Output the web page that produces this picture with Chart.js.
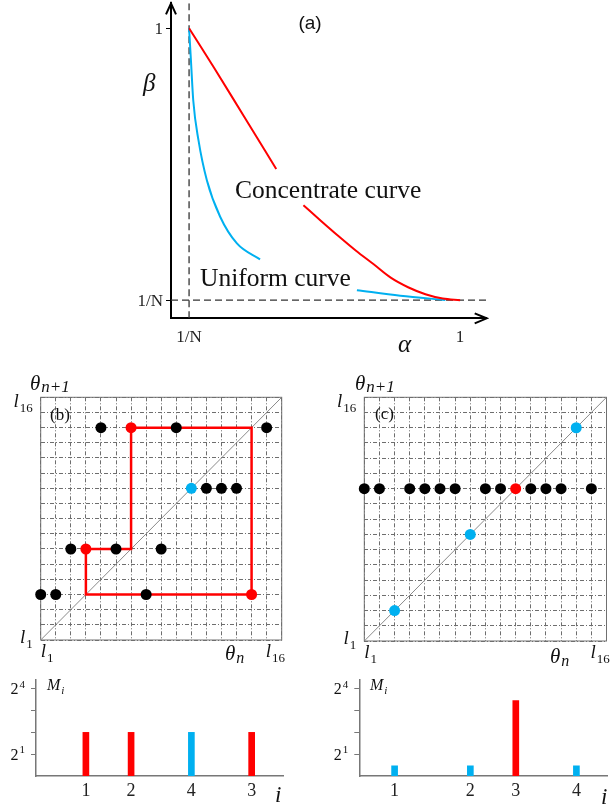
<!DOCTYPE html>
<html>
<head>
<meta charset="utf-8">
<script src="https://cdn.jsdelivr.net/npm/chart.js@4.4.0/dist/chart.umd.min.js"></script>
<style>
  html, body { margin: 0; padding: 0; background: #fff; }
  body { width: 612px; height: 809px; position: relative; overflow: hidden; }
  canvas { position: absolute; left: 0; top: 0; }
</style>
</head>
<body>
<canvas id="chartA" width="612" height="809"></canvas>
<canvas id="chartB" width="612" height="809"></canvas>
<canvas id="chartC" width="612" height="809"></canvas>
<canvas id="barsB" width="612" height="809"></canvas>
<canvas id="barsC" width="612" height="809"></canvas>
<script>
const SERIF = '"Liberation Serif", "DejaVu Serif", serif';
const SANS = '"Liberation Sans", Arial, sans-serif';
const RED = '#ff0000';
const BLUE = '#00b0f0';

// ---- (a) alpha / beta curves, 1/N = 1/16 ----
const invN = 1 / 16;
const aMaxX = 1.092;
const aMaxY = 1.086;
const aTickVals = [invN, 1];
const aTickLabels = ['1/N', '1'];
const concAlpha = [0.0625, 0.15, 0.25, 0.364, 0.41, 0.458, 0.52, 0.58, 0.64, 0.70, 0.76, 0.82, 0.88, 0.94, 1.0];
const concBeta  = [1.0,    0.862, 0.700, 0.515, null, 0.390, 0.335, 0.283, 0.233, 0.187, 0.140, 0.107, 0.083, 0.068, 0.0625];
const unifAlpha = [0.0625, 0.069, 0.077, 0.095, 0.124, 0.170, 0.228, 0.308, 0.45, 0.643, 0.793, 0.949];
const unifBeta  = [1.0,    0.889, 0.751, 0.614, 0.476, 0.350, 0.258, 0.203, null, 0.097, 0.078, 0.063];

// ---- (b), (c) return maps on 16 levels ----
const gridTickVals = [0, 16];
const gridTickLabels = ['l_1', 'l_16'];

const bBlackX = [4, 9, 15, 11, 12, 13, 2, 5, 8, 0, 1, 7];
const bBlackY = [14, 14, 14, 10, 10, 10, 6, 6, 6, 3, 3, 3];
const bRedX = [6, 3, 14];
const bRedY = [14, 6, 3];
const bBlueX = [10];
const bBlueY = [10];
const bPathX = [3, 6, 6, 14, 14, 3, 3];
const bPathY = [6, 6, 14, 14, 3, 3, 6];

const cBlackX = [0, 1, 3, 4, 5, 6, 8, 9, 11, 12, 13, 15];
const cBlackY = [10, 10, 10, 10, 10, 10, 10, 10, 10, 10, 10, 10];
const cRedX = [10];
const cRedY = [10];
const cBlueX = [2, 7, 14];
const cBlueY = [2, 7, 14];

// ---- M_i bars ----
const mTickVals = [2, 4, 8, 16];
const mTickLabels = ['2^1', '', '', '2^4'];
const bBarPos = [3, 6, 10, 14];
const bBarLabels = ['1', '2', '4', '3'];
const bBarM = [4, 4, 4, 4];
const bBarColors = [RED, RED, BLUE, RED];
const cBarPos = [2, 7, 10, 14];
const cBarLabels = ['1', '2', '3', '4'];
const cBarM = [1.38, 1.38, 11, 1.38];
const cBarColors = [BLUE, BLUE, RED, BLUE];

const pts = (xs, ys) => xs.map((x, i) => ({ x: x, y: ys[i] }));

// text like "l_16", "2^4", "θ_n+1"
function drawRich(ctx, str, x, y, size, o) {
  o = o || {};
  const m = str.match(/^([^_^]+)(?:([_^])(.+))?$/);
  const base = m[1], mode = m[2], scr = m[3] || '';
  const fam = o.family || SERIF;
  const fBase = (o.italic ? 'italic ' : '') + size + 'px ' + fam;
  const ss = o.ss || Math.round(size * 0.68);
  const fScr = (/[a-z]/.test(scr) ? 'italic ' : '') + ss + 'px ' + fam;
  const drop = o.drop !== undefined ? o.drop : size * 0.25;
  ctx.save();
  ctx.font = fBase;
  const wb = ctx.measureText(base).width;
  ctx.font = fScr;
  const ws = scr ? ctx.measureText(scr).width + 1 : 0;
  let x0 = x;
  if (o.align === 'right') x0 = x - wb - ws;
  else if (o.align === 'center') x0 = x - (wb + ws) / 2;
  ctx.fillStyle = o.color || '#111';
  ctx.textAlign = 'left';
  ctx.textBaseline = 'alphabetic';
  ctx.font = fBase;
  ctx.fillText(base, x0, y);
  if (scr) {
    ctx.font = fScr;
    ctx.fillText(scr, x0 + wb + 1, mode === '_' ? y + drop : y - size * 0.42);
  }
  ctx.restore();
}

const textPlugin = (items) => ({
  id: 'texts',
  afterDraw(chart) {
    items.forEach(it => drawRich(chart.ctx, it.t, it.x, it.y, it.size, it));
  }
});

const padFor = (l, t, r, b) => ({ left: l, top: t, right: 612 - r, bottom: 809 - b });

const baseOpts = {
  responsive: false,
  animation: false,
  events: [],
  plugins: { legend: { display: false }, tooltip: { enabled: false } }
};

// ---------- (a) ----------
const arrows = {
  id: 'arrows',
  afterDraw(chart) {
    const { ctx, chartArea: { left, top, right, bottom } } = chart;
    ctx.save();
    ctx.strokeStyle = '#000';
    ctx.lineWidth = 2;
    ctx.beginPath();
    ctx.moveTo(left - 5, top + 11); ctx.lineTo(left, top); ctx.lineTo(left + 5, top + 11);
    ctx.moveTo(right - 12, bottom - 5); ctx.lineTo(right, bottom); ctx.lineTo(right - 12, bottom + 5);
    ctx.stroke();
    ctx.restore();
  }
};

const aYLabels = {
  id: 'aYLabels',
  afterDraw(chart) {
    const { ctx, chartArea: a, scales: { y } } = chart;
    aTickVals.forEach((v, i) => {
      drawRich(ctx, aTickLabels[i], a.left - 8, y.getPixelForValue(v) + 6, 17, { align: 'right', color: '#222' });
    });
  }
};

const xAxisH = 30;

new Chart(document.getElementById('chartA'), {
  type: 'scatter',
  data: {
    datasets: [
      { data: pts(concAlpha, concBeta), showLine: true, borderColor: RED, borderWidth: 2,
        pointRadius: 0, spanGaps: false, cubicInterpolationMode: 'monotone' },
      { data: pts(unifAlpha, unifBeta), showLine: true, borderColor: BLUE, borderWidth: 2,
        pointRadius: 0, spanGaps: false, cubicInterpolationMode: 'monotone' },
      { data: [{ x: invN, y: 0 }, { x: invN, y: aMaxY }], showLine: true, borderColor: '#333',
        borderWidth: 1.3, borderDash: [7, 4], pointRadius: 0 },
      { data: [{ x: 0, y: invN }, { x: aMaxX, y: invN }], showLine: true, borderColor: '#333',
        borderWidth: 1.3, borderDash: [7, 4], pointRadius: 0 }
    ]
  },
  options: Object.assign({}, baseOpts, {
    layout: { padding: padFor(171, 3.3, 486.7, 318.3 + xAxisH) },
    scales: {
      x: {
        type: 'linear', min: 0, max: aMaxX,
        afterFit: s => { s.height = xAxisH; },
        afterBuildTicks: s => { s.ticks = aTickVals.map(v => ({ value: v })); },
        ticks: { callback: (v, i) => aTickLabels[i], font: { family: SERIF, size: 17 }, color: '#222',
                 padding: 9, maxRotation: 0, autoSkip: false },
        grid: { display: false, drawTicks: false },
        border: { display: true, color: '#000', width: 2 }
      },
      y: {
        type: 'linear', min: 0, max: aMaxY,
        afterFit: s => { s.width = 0; },
        afterBuildTicks: s => { s.ticks = aTickVals.map(v => ({ value: v })); },
        ticks: { display: false },
        grid: { drawOnChartArea: false, drawTicks: true, tickLength: 5, color: '#000' },
        border: { display: true, color: '#000', width: 2 }
      }
    }
  }),
  plugins: [arrows, aYLabels, textPlugin([
    { t: '(a)', x: 310, y: 29, size: 19, family: SANS, align: 'center' },
    { t: 'β', x: 143, y: 91, size: 25, italic: true },
    { t: 'α', x: 398, y: 352, size: 25, italic: true },
    { t: 'Concentrate curve', x: 235, y: 198, size: 25.5 },
    { t: 'Uniform curve', x: 200, y: 286, size: 25.5 }
  ])]
});

// ---------- (b), (c) ----------
const boxPlugin = {
  id: 'box',
  beforeDatasetsDraw(chart) {
    const { ctx, chartArea: a } = chart;
    ctx.save();
    ctx.strokeStyle = '#707070';
    ctx.lineWidth = 1;
    ctx.strokeRect(a.left, a.top, a.right - a.left, a.bottom - a.top);
    ctx.restore();
  }
};

const gridTicks = {
  id: 'gridTicks',
  afterDraw(chart) {
    const { ctx, chartArea: a, scales: { x, y } } = chart;
    gridTickVals.forEach((v, i) => {
      const py = y.getPixelForValue(v);
      drawRich(ctx, gridTickLabels[i], a.left - 8, py + (v === y.max ? 10 : 3), 19, { italic: true, align: 'right' });
      const px = x.getPixelForValue(v);
      drawRich(ctx, gridTickLabels[i], v === x.max ? px - 16 : px, a.bottom + 17, 19, { italic: true });
    });
  }
};

function gridScale() {
  return {
    type: 'linear', min: 0, max: 16,
    ticks: { stepSize: 1, display: false },
    grid: { color: '#6e6e6e', lineWidth: 1, drawTicks: false },
    border: { display: false, dash: [4, 2, 1, 2] }
  };
}

function makeGrid(id, area, sets, texts) {
  const dot = (data, color) => ({ data: data, backgroundColor: color, borderWidth: 0,
                                  pointRadius: 5.5, clip: false });
  const ds = [
    dot(sets.black, '#000'),
    dot(sets.red, RED),
    dot(sets.blue, BLUE)
  ];
  if (sets.path) {
    ds.push({ data: sets.path, showLine: true, borderColor: RED, borderWidth: 2.5, pointRadius: 0 });
  }
  ds.push({ data: [{ x: 0, y: 0 }, { x: 16, y: 16 }], showLine: true, borderColor: '#8a8a8a',
            borderWidth: 1, pointRadius: 0 });
  const sx = gridScale(); sx.afterFit = s => { s.height = 0; };
  const sy = gridScale(); sy.afterFit = s => { s.width = 0; };
  new Chart(document.getElementById(id), {
    type: 'scatter',
    data: { datasets: ds },
    options: Object.assign({}, baseOpts, {
      layout: { padding: padFor(area[0], area[1], area[2], area[3]) },
      scales: { x: sx, y: sy }
    }),
    plugins: [boxPlugin, gridTicks, textPlugin(texts)]
  });
}

makeGrid('chartB', [40.7, 397.3, 281.7, 640], {
  black: pts(bBlackX, bBlackY), red: pts(bRedX, bRedY), blue: pts(bBlueX, bBlueY),
  path: pts(bPathX, bPathY)
}, [
  { t: 'θ_n+1', x: 30, y: 390, size: 21, italic: true, ss: 17, drop: 2 },
  { t: '(b)', x: 50, y: 420, size: 17 },
  { t: 'θ_n', x: 225, y: 660, size: 21, italic: true, ss: 16, drop: 3 }
]);

makeGrid('chartC', [364.3, 397.3, 606.7, 641], {
  black: pts(cBlackX, cBlackY), red: pts(cRedX, cRedY), blue: pts(cBlueX, cBlueY)
}, [
  { t: 'θ_n+1', x: 355, y: 390, size: 21, italic: true, ss: 17, drop: 2 },
  { t: '(c)', x: 375, y: 419, size: 17 },
  { t: 'θ_n', x: 550, y: 663, size: 21, italic: true, ss: 16, drop: 3 }
]);

// ---------- M_i bars ----------
const mTicks = {
  id: 'mTicks',
  afterDraw(chart) {
    const { ctx, chartArea: a, scales: { y } } = chart;
    mTickVals.forEach((v, i) => {
      if (!mTickLabels[i]) return;
      drawRich(ctx, mTickLabels[i], a.left - 11, y.getPixelForValue(v) + 5.5, 16, { align: 'right' });
    });
  }
};

function makeBars(id, area, xMin, xMax, pos, labels, values, colors, texts) {
  new Chart(document.getElementById(id), {
    type: 'bar',
    data: {
      datasets: [{
        data: pts(pos, values),
        backgroundColor: colors,
        borderWidth: 0,
        barThickness: 6
      }]
    },
    options: Object.assign({}, baseOpts, {
      layout: { padding: padFor(area[0], area[1], area[2], area[3] + xAxisH) },
      scales: {
        x: {
          type: 'linear', min: xMin, max: xMax, offset: false,
          afterFit: s => { s.height = xAxisH; },
          afterBuildTicks: s => { s.ticks = pos.map(v => ({ value: v })); },
          ticks: { callback: (v, i) => labels[i], font: { family: SERIF, size: 18 }, color: '#222',
                   padding: 4, maxRotation: 0, autoSkip: false },
          grid: { display: false, drawTicks: false, offset: false },
          border: { display: true, color: '#777', width: 1.5 }
        },
        y: {
          type: 'logarithmic', min: 1, max: Math.pow(2, 4.4),
          afterFit: s => { s.width = 0; },
          afterBuildTicks: s => { s.ticks = mTickVals.map(v => ({ value: v })); },
          ticks: { display: false },
          grid: { drawOnChartArea: false, drawTicks: true, tickLength: 5, color: '#777', lineWidth: 1 },
          border: { display: true, color: '#777', width: 1.5 }
        }
      }
    }),
    plugins: [mTicks, textPlugin(texts)]
  });
}

makeBars('barsB', [36, 680, 283, 776], -0.31, 16.08, bBarPos, bBarLabels, bBarM, bBarColors, [
  { t: 'M_i', x: 47, y: 690, size: 16, italic: true },
  { t: 'i', x: 275, y: 802, size: 23, italic: true }
]);

makeBars('barsC', [359.3, 680, 607, 776], -0.33, 16.02, cBarPos, cBarLabels, cBarM, cBarColors, [
  { t: 'M_i', x: 370, y: 690, size: 16, italic: true },
  { t: 'i', x: 601, y: 804, size: 23, italic: true }
]);
</script>
</body>
</html>
